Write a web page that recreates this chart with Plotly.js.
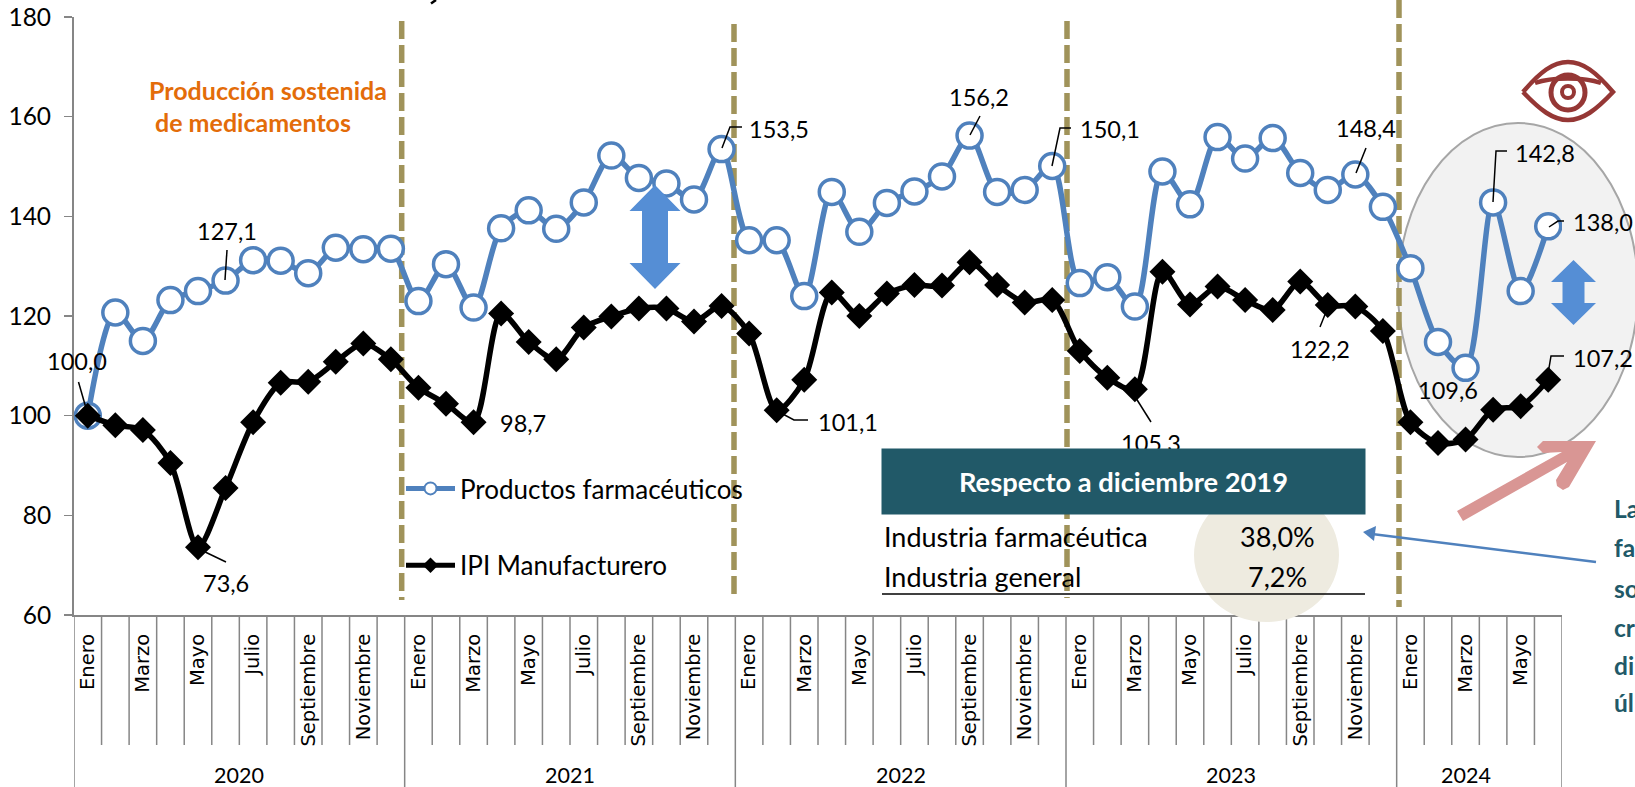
<!DOCTYPE html>
<html><head><meta charset="utf-8">
<script src="https://cdn.plot.ly/plotly-3.0.1.min.js"></script>
<style>html,body{margin:0;padding:0;background:#fff;overflow:hidden}#c{width:1635px;height:787px}</style>
</head><body><div id="c"></div>
<script>
const monthNames=['Enero','Febrero','Marzo','Abril','Mayo','Junio','Julio','Agosto','Septiembre','Octubre','Noviembre','Diciembre'];
const years=[2020,2021,2022,2023,2024];
const productos=[100,120.7,115,123.2,125,127.1,131.2,131.1,128.6,133.7,133.4,133.5,
123,130.4,121.7,137.6,141.2,137.5,142.8,152.2,147.7,146.6,143.4,153.5,
135.2,135.2,124,144.9,136.9,142.7,145,148,156.2,144.9,145.3,150.1,
126.6,127.8,121.9,149,142.4,155.9,151.6,155.7,148.7,145.3,148.4,141.9,
129.6,114.8,109.6,142.8,125,138];
const ipi=[100,98.1,97.1,90.5,73.6,85.5,98.7,106.6,106.8,110.8,114.5,111.3,
105.6,102.4,98.7,120.5,114.8,111.3,117.7,119.9,121.5,121.5,118.9,122,
116.5,101.1,107.2,124.7,120,124.5,126.2,126.1,130.8,126.2,122.7,123.2,
113,107.6,105.3,128.9,122.3,125.9,123.2,121.2,126.9,122.2,121.9,117,
98.7,94.5,95.2,101.2,101.9,107.2];

const L=74,R=73,T=17,B=172,PW=1635-L-R,PH=787-T-B;
const X=p=>(p-L)/PW, Y=p=>(787-B-p)/PH;
const cx=i=>L+(i+0.5)*PW/54, cy=v=>787-B-(v-60)*PH/120;
const idx=productos.map((_,i)=>i);
const tickIdx=idx.filter(i=>i%2===0);
const tickText=tickIdx.map(i=>monthNames[i%12]);

const gray='#868686', teal='#215968', LAT='Lato, Carlito, sans-serif';
const P=(pts)=>'M'+pts.map(p=>X(p[0]).toFixed(5)+','+Y(p[1]).toFixed(5)).join(' L')+' Z';
const O=(pts)=>'M'+pts.map(p=>X(p[0]).toFixed(5)+','+Y(p[1]).toFixed(5)).join(' L');
const pShape=(path,fill,lc,lw,layer)=>({type:'path',xref:'paper',yref:'paper',path,fillcolor:fill||'rgba(0,0,0,0)',line:{color:lc||'rgba(0,0,0,0)',width:lw||0},layer:layer||'above'});
const ell=(x0,x1,y0,y1,fill,lc,lw,layer)=>({type:'circle',xref:'paper',yref:'paper',x0:X(x0),x1:X(x1),y0:Y(y1),y1:Y(y0),fillcolor:fill,line:{color:lc||'rgba(0,0,0,0)',width:lw||0},layer:layer||'above'});
const C=(cmds)=>cmds.map(c=>c[0]+c.slice(1).map(p=>X(p[0]).toFixed(5)+','+Y(p[1]).toFixed(5)).join(' ')).join(' ');

const shapes=[];
shapes.push(ell(1398,1638,123,457,'#F2F2F2','#A6A6A6',2,'below'));
[[401.7,21,600],[734,24,600],[1067,21,598],[1399,0,607]].forEach(d=>{
  const xv=(d[0]-L)/(PW/54)-0.5;
  shapes.push({type:'line',xref:'x',yref:'paper',x0:xv,x1:xv,y0:Y(d[1]),y1:Y(d[2]),line:{color:'#A0935A',width:5.5,dash:'18px,6px'},layer:'below'});
});
for(let i=0;i<=54;i++){
  const isYear=(i%12===0)||i===54;
  shapes.push({type:'line',xref:'x',yref:'paper',x0:i-0.5,x1:i-0.5,y0:0,y1:isYear?Y(787):Y(745),line:{color:gray,width:1.5},layer:'below'});
}
[[[78.5,382],[88,415]],[[227,250],[225,280]],[[201,550],[226,562]],[[722,148],[730,127],[742,127]],
 [[779,412],[794,420],[808,420]],[[970,135],[980,116]],[[1052,166],[1060,128],[1071,128]],
 [[1356,173],[1366,148]],[[1493,202],[1496,151],[1507,151]],[[1549,227],[1558,221],[1564,221]],
 [[1547,380],[1551,356],[1564,356]],[[1328,307],[1320,327]],[[1134,395],[1151,422]]
].forEach(l=>shapes.push(pShape(O(l),null,'#000',1.5,'above')));
shapes.push(pShape(O([[436,0],[431,3.5]]),null,'#000',2.5));
shapes.push(ell(1194,1339,488,622,'#EEEBE0'));
shapes.push(pShape(O([[882,594],[1365,594]]),null,'#000',1.5));
const dbl=(c,t,hb1,hb2,b,hw,sw)=>P([[c,t],[c+hw,hb1],[c+sw,hb1],[c+sw,hb2],[c+hw,hb2],[c,b],[c-hw,hb2],[c-sw,hb2],[c-sw,hb1],[c-hw,hb1]]);
shapes.push(pShape(dbl(655,185,211,263,289,25.5,13),'#558ED5'));
shapes.push(pShape(dbl(1573.5,260,282,303,325,22.5,11),'#558ED5'));
shapes.push(pShape(P([[1596,441],[1569,487],[1563,490],[1557,486],[1556,480],[1567,462],[1463,521],[1457,511],[1562,452],[1543,453],[1537,447],[1543,441]]),'#D99694'));
shapes.push(pShape(O([[1596,562],[1372,534]]),null,'#4F81BD',2.5));
shapes.push(pShape(P([[1363,532],[1376,526],[1374,541]]),'#4F81BD'));
const eye='#953735';
shapes.push(pShape(C([['M',[1523,92]],['C',[1540,72],[1553,62],[1568,62]],['C',[1583,62],[1596,72],[1613,92]],['C',[1596,110],[1583,120],[1568,120]],['C',[1553,120],[1540,110],[1523,92]]]),null,eye,4.5));
shapes.push(pShape(C([['M',[1535,83]],['C',[1552,77],[1584,77],[1601,83]]]),null,eye,4.5));
shapes.push(ell(1551,1585,75,110,'rgba(0,0,0,0)',eye,5));
shapes.push(ell(1562,1574,86,98,'rgba(0,0,0,0)',eye,4));

const ann=(x,y,text,size,color,extra)=>Object.assign({xref:'paper',yref:'paper',x:X(x),y:Y(y),text,showarrow:false,xanchor:'center',yanchor:'middle',font:{family:LAT,size,color}},extra||{});
const annotations=[];
[[ipi,0,77,361],[productos,5,227,231],[ipi,4,226,583],[ipi,14,523,423],[productos,23,779,129],[ipi,25,848,422],
 [productos,32,979,97],[productos,35,1110,129],[productos,46,1366,128],[ipi,45,1320,349],[ipi,38,1151,443],
 [productos,50,1448,390],[productos,51,1545,153],[productos,53,1603,222],[ipi,53,1603,358]
].forEach(a=>{
  const s=a[0],i=a[1];
  annotations.push({xref:'x',yref:'y',x:i,y:s[i],xshift:a[2]-cx(i),yshift:cy(s[i])-a[3],text:s[i].toFixed(1).replace('.',','),showarrow:false,xanchor:'center',yanchor:'middle',font:{family:LAT,size:23.5,color:'#000'}});
});
years.forEach((y,k)=>annotations.push({xref:'x',yref:'paper',x:k<4?5.5+12*k:50,y:Y(775),text:String(y),showarrow:false,xanchor:'center',yanchor:'middle',font:{family:LAT,size:21.5,color:'#000'}}));
annotations.push(ann(147,90,'<b>Producción sostenida</b>',25,'#E36C09',{xanchor:'left'}));
annotations.push(ann(153,122,'<b>de medicamentos</b>',25,'#E36C09',{xanchor:'left'}));
annotations.push(ann(882,536,'Industria farmacéutica',27,'#000',{xanchor:'left'}));
annotations.push(ann(882,576,'Industria general',27,'#000',{xanchor:'left'}));
annotations.push(ann(1277,536,'38,0%',27,'#000'));
annotations.push(ann(1277,576,'7,2%',27,'#000'));
annotations.push(ann(1123.5,481.5,'<b>Respecto a diciembre 2019</b>',27.3,'#FFFFFF',{width:483,height:65,bgcolor:teal,borderpad:0,align:'center',valign:'middle'}));
[['La',508],['fa',547],['so',588],['cr',627],['di',665],['úl',703]].forEach(t=>annotations.push(ann(1612,t[1],'<b>'+t[0]+'</b>',24.5,teal,{xanchor:'left'})));

const traces=[
 {type:'scatter',mode:'lines+markers',name:'Productos farmacéuticos',legendgroup:'a',x:idx,y:productos,
  line:{color:'#4F81BD',width:5.5,shape:'spline',smoothing:0.8},
  marker:{symbol:'circle',size:25,color:'#fff',line:{color:'#4F81BD',width:3.5}}},
 {type:'scatter',mode:'lines+markers',name:'IPI Manufacturero',legendgroup:'b',x:idx,y:ipi,
  line:{color:'#000',width:5.5,shape:'spline',smoothing:0.8},
  marker:{symbol:'diamond',size:20,color:'#000',line:{color:'#000',width:0}}}
];
const layout={
 width:1635,height:787,margin:{l:L,r:R,t:T,b:B,pad:0},paper_bgcolor:'#fff',plot_bgcolor:'rgba(0,0,0,0)',
 xaxis:{type:'linear',range:[-0.5,53.5],tickmode:'array',tickvals:tickIdx,ticktext:tickText,tickangle:-90,ticks:'',ticklabelstandoff:9,
  tickfont:{family:'"DejaVu Sans",sans-serif',size:19.5,color:'#000'},showgrid:false,zeroline:false,showline:true,linecolor:gray,linewidth:2},
 yaxis:{range:[60,180],tickmode:'linear',tick0:60,dtick:20,ticks:'outside',ticklen:8,tickcolor:gray,tickwidth:1.5,ticklabelstandoff:8,
  tickfont:{family:LAT,size:24.5,color:'#000'},showgrid:false,zeroline:false,showline:true,linecolor:gray,linewidth:2},
 showlegend:true,
 legend:{x:X(401),y:Y(465),xanchor:'left',yanchor:'top',bgcolor:'rgba(0,0,0,0)',font:{family:LAT,size:26,color:'#000'},itemwidth:49,tracegroupgap:40,traceorder:'grouped',itemsizing:'constant'},
 shapes,annotations
};
Plotly.newPlot('c',traces,layout,{displayModeBar:false,staticPlot:true});
</script></body></html>
